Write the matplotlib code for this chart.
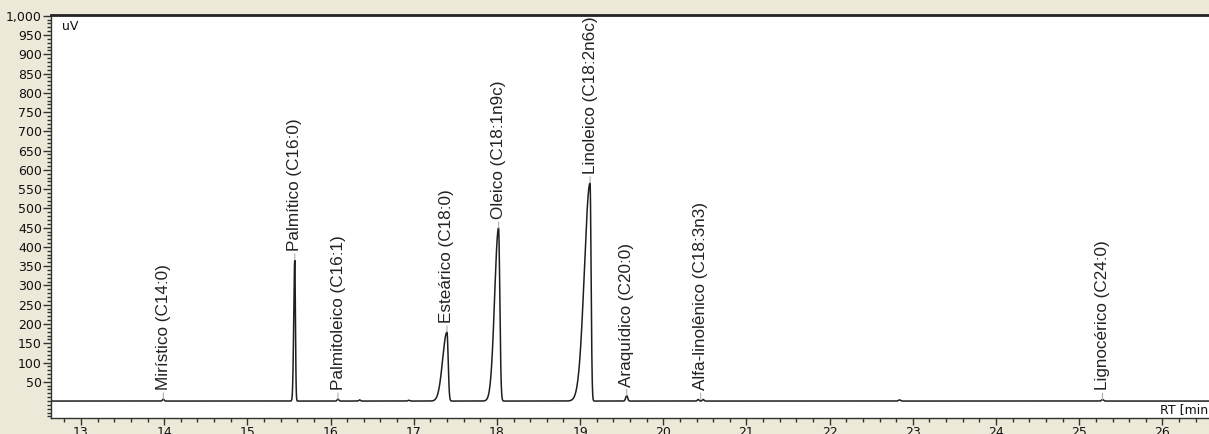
import numpy as np
import matplotlib
matplotlib.use("Agg")
import matplotlib.pyplot as plt
from matplotlib.ticker import MultipleLocator, FuncFormatter

plt.rcParams['font.family'] = ['Liberation Sans', 'DejaVu Sans']

# picos: tempo de retenção (min), altura (uV), sigma esquerda, sigma direita
rt = [13.99, 15.57, 16.09, 16.35, 16.94, 17.40, 18.02, 19.12, 19.56, 20.42, 20.48, 22.84, 25.28]
altura = [5, 366, 5, 3, 2, 179, 449, 566, 14, 4, 4, 3, 4]
sig_esq = [0.01, 0.012, 0.01, 0.01, 0.01, 0.052, 0.047, 0.068, 0.012, 0.01, 0.01, 0.012, 0.012]
sig_dir = [0.01, 0.008, 0.01, 0.01, 0.01, 0.014, 0.015, 0.012, 0.012, 0.01, 0.01, 0.012, 0.012]

# rótulos dos picos
nomes = ['Mirístico (C14:0)', 'Palmítico (C16:0)', 'Palmitoleico (C16:1)', 'Esteárico (C18:0)',
         'Oleico (C18:1n9c)', 'Linoleico (C18:2n6c)', 'Araquídico (C20:0)',
         'Alfa-linolênico (C18:3n3)', 'Lignocérico (C24:0)']
rt_nomes = [13.99, 15.57, 16.09, 17.40, 18.02, 19.12, 19.56, 20.45, 25.28]
y_nomes = [5, 366, 5, 179, 449, 566, 14, 4, 4]

y_ticks = list(range(50, 1001, 50))
x_ticks = list(range(13, 27))

W, H = 1209, 434
fig = plt.figure(figsize=(W / 100, H / 100), dpi=100)
fig.patch.set_facecolor('#ECE9D8')
ax = fig.add_axes([51 / W, 1 - 418 / H, 1 - 51 / W + 0.01, (418 - 15) / H])
ax.set_facecolor('white')

t = np.linspace(12.64, 26.6, 8000)
sinal = np.zeros_like(t)
for r, h, sl, sr in zip(rt, altura, sig_esq, sig_dir):
    s = np.where(t < r, sl, sr)
    sinal += h * np.exp(-0.5 * ((t - r) / s) ** 2)
ax.plot(t, sinal, color='#1e1e1e', lw=1.1, solid_joinstyle='miter')

for nome, x, y in zip(nomes, rt_nomes, y_nomes):
    ax.annotate(nome, xy=(x, y), xytext=(0, 6.5), textcoords='offset points',
                rotation=90, ha='center', va='bottom', fontsize=12.3, color='#222',
                arrowprops=dict(arrowstyle='-', color='#b0b0b0', lw=0.8,
                                shrinkA=0, shrinkB=0))

ax.set_xlim(12.64, 26.56 + 0.01 * W / 1157 * 13.9)
ax.set_ylim(-44, 1002)

ax.set_yticks(y_ticks)
ax.yaxis.set_minor_locator(MultipleLocator(10))
ax.yaxis.set_major_formatter(FuncFormatter(lambda v, p: f'{int(v):,}'))
ax.set_xticks(x_ticks)
ax.xaxis.set_minor_locator(MultipleLocator(0.2))

ax.tick_params(axis='both', which='major', direction='out', length=6, width=1,
               color='#333', labelsize=9, labelcolor='#111', labelfontfamily='DejaVu Sans')
ax.tick_params(axis='y', which='major', pad=0.5)
ax.tick_params(axis='x', which='major', length=5, pad=0.5)
ax.tick_params(axis='both', which='minor', direction='out', length=3, width=1, color='#333')

ax.spines['right'].set_visible(False)
ax.spines['top'].set_linewidth(2)
ax.spines['top'].set_color('#222')
for lado in ['left', 'bottom']:
    ax.spines[lado].set_color('#333')
    ax.spines[lado].set_linewidth(1)

fig.text(62 / W, 1 - 26 / H, 'uV', fontsize=9, va='center', ha='left', color='#111',
         family='DejaVu Sans')
fig.text(1160 / W, 1 - 410 / H, 'RT [min]', fontsize=9, va='center', ha='left', color='#111',
         family='DejaVu Sans')

fig.savefig('out.png', dpi=100, facecolor=fig.get_facecolor())
